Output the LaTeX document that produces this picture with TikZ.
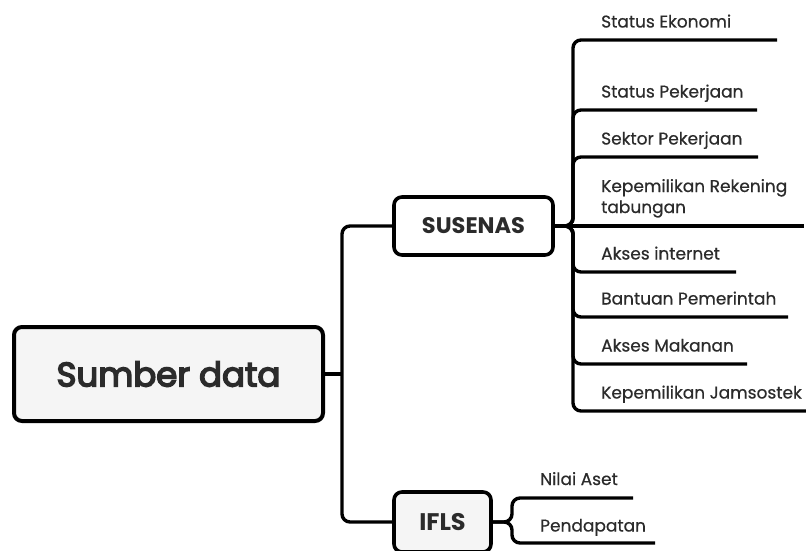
\documentclass[tikz,border=0pt]{standalone}
\usepackage{fontspec}
\setmainfont{Poppins}
\newfontfamily\leaffont{Poppins}[FakeBold=0.6]
\newfontfamily\bigfont{Poppins}[FakeBold=4.5]
\definecolor{txt}{HTML}{2B2B2B}
\definecolor{boxfill}{HTML}{F5F5F5}
\begin{document}
\begin{tikzpicture}[x=1pt,y=-1pt,
  box/.style={draw=black,rounded corners=8pt,line width=3.6pt,inner sep=0pt,text=txt},
  conn/.style={draw=black,line width=3.4pt,rounded corners=8pt},
  leaf/.style={anchor=base west,inner sep=0pt,text=txt,font=\leaffont\fontsize{17}{21}\selectfont}
]
\useasboundingbox (0,0) rectangle (806,551);
% boxes
\node[box,line width=4pt,fill=boxfill,minimum width=309pt,minimum height=94pt,
      font=\bigfont\fontsize{34}{40}\selectfont] (main) at (168.5,374) {Sumber data};
\node[box,fill=white,minimum width=159pt,minimum height=58pt,
      font=\fontsize{22.5}{25}\selectfont\bfseries] (sus) at (473.5,226) {SUSENAS};
\node[box,fill=boxfill,minimum width=97pt,minimum height=60pt,
      font=\fontsize{24}{28}\selectfont\bfseries] (ifls) at (442.5,522) {IFLS};
% trunk
\coordinate (trunk) at (342,0);
\draw[conn] (main.east) -- (main.east -| trunk);
\draw[conn] (sus.west) -- (sus.west -| trunk) -- (ifls.west -| trunk) -- (ifls.west);
% SUSENAS leaves
\coordinate (sj) at (573,0);
\node[leaf] (l1) at (601,27.5) {Status Ekonomi};
\node[leaf] (l2) at (601,97.5) {Status Pekerjaan};
\node[leaf] (l3) at (601,144.5) {Sektor Pekerjaan};
\node[leaf,align=left] (l4) at (601,213) {Kepemilikan Rekening\\tabungan};
\node[leaf] (l5) at (601,259.5) {Akses internet};
\node[leaf] (l6) at (601,304.5) {Bantuan Pemerintah};
\node[leaf] (l7) at (601,351.5) {Akses Makanan};
\node[leaf] (l8) at (601,398.5) {Kepemilikan Jamsostek};
\coordinate (e1) at (777,40);
\coordinate (e2) at (757,110);
\coordinate (e3) at (758,157);
\coordinate (e4) at (804,226);
\coordinate (e5) at (736,272);
\coordinate (e6) at (788,317);
\coordinate (e7) at (747,364);
\coordinate (e8) at (808,411);
\foreach \e in {e1,e2,e3,e5,e6,e7,e8}{
  \draw[conn] (sus.east) -- (sus.east -| sj) -- (\e -| sj) -- (\e);
}
\draw[conn] (sus.east) -- (e4);
% IFLS leaves
\coordinate (ij) at (512,0);
\node[leaf] (n1) at (540,485) {Nilai Aset};
\node[leaf] (n2) at (540,531.5) {Pendapatan};
\coordinate (f1) at (633,498);
\coordinate (f2) at (655,543);
\foreach \e in {f1,f2}{
  \draw[conn] (ifls.east) -- (ifls.east -| ij) -- (\e -| ij) -- (\e);
}
\end{tikzpicture}
\end{document}
